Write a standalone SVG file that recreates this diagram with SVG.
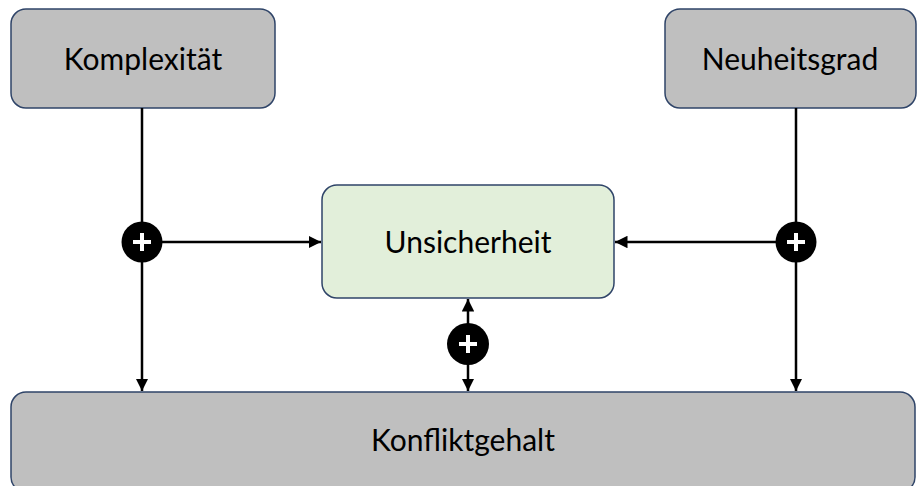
<svg xmlns="http://www.w3.org/2000/svg" width="917" height="486" viewBox="0 0 917 486">
<style>
.box{fill:#bfbfbf;stroke:#2f4468;stroke-width:1.5}
.green{fill:#e2efda;stroke:#2f4468;stroke-width:1.5}
.lbl{font-family:Lato,"Open Sans","Liberation Sans",sans-serif;font-size:30px;fill:#000;text-anchor:middle}
.ln{stroke:#000;stroke-width:2.5;fill:none}
.plus{stroke:#fff;stroke-width:4;fill:none}
</style>
<defs>
<marker id="ah" viewBox="0 0 10 10" refX="10" refY="5" markerWidth="5" markerHeight="5" orient="auto-start-reverse" markerUnits="strokeWidth">
<path d="M0,0 L10,5 L0,10 z" fill="#000"/>
</marker>
</defs>
<g id="komplexitaet"><rect class="box" x="11" y="9" width="264" height="99" rx="15"/><text class="lbl" x="143" y="70">Komplexität</text></g>
<g id="neuheitsgrad"><rect class="box" x="665" y="9" width="251" height="99" rx="15"/><text class="lbl" x="790" y="70">Neuheitsgrad</text></g>
<g id="unsicherheit"><rect class="green" x="322" y="185" width="292" height="113" rx="15"/><text class="lbl" x="468" y="253">Unsicherheit</text></g>
<g id="konfliktgehalt"><rect class="box" x="11" y="392" width="904" height="100" rx="15"/><text class="lbl" x="463" y="451">Konfliktgehalt</text></g>
<g id="connectors">
<line class="ln" x1="142" y1="108" x2="142" y2="391" marker-end="url(#ah)"/>
<line class="ln" x1="142" y1="242" x2="321" y2="242" marker-end="url(#ah)"/>
<line class="ln" x1="796" y1="108" x2="796" y2="391" marker-end="url(#ah)"/>
<line class="ln" x1="796" y1="242" x2="615" y2="242" marker-end="url(#ah)"/>
<line class="ln" x1="468" y1="299" x2="468" y2="391" marker-start="url(#ah)" marker-end="url(#ah)"/>
</g>
<g id="plus-left"><circle cx="142" cy="242" r="20.5" fill="#000"/><path class="plus" d="M133,242 H151 M142,233 V251"/></g>
<g id="plus-right"><circle cx="796" cy="242" r="20.5" fill="#000"/><path class="plus" d="M787,242 H805 M796,233 V251"/></g>
<g id="plus-mid"><circle cx="468" cy="344" r="21" fill="#000"/><path class="plus" d="M459,344 H477 M468,335 V353"/></g>
</svg>
